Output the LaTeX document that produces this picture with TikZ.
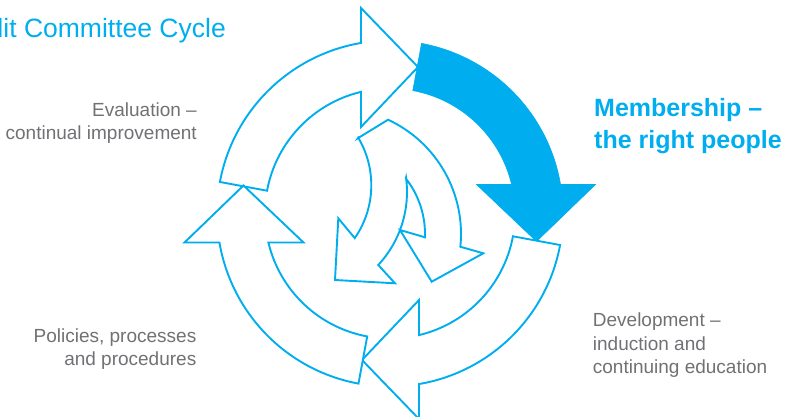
\documentclass[tikz,border=0pt]{standalone}
\usepackage{fontspec}
\setmainfont{Liberation Sans}
\usetikzlibrary{calc}
\definecolor{kcyan}{RGB}{0,174,239}
\definecolor{kgray}{RGB}{112,113,116}
\begin{document}
\begin{tikzpicture}[x=1pt,y=1pt,
  ringarrow/.style={draw=kcyan, line width=1.9pt, fill=white, line join=miter},
  solidarrow/.style={draw=kcyan, line width=0.6pt, fill=kcyan, line join=miter},
  bodytext/.style={text=kgray, inner sep=0pt, font=\fontsize{19}{23}\selectfont},
  headtext/.style={text=kcyan, inner sep=0pt, font=\fontsize{25}{31}\selectfont\bfseries},
  titletext/.style={text=kcyan, inner sep=0pt, font=\fontsize{26.5}{30}\selectfont}]
\useasboundingbox (0,-417) rectangle (792,0);
\clip (0,-417) rectangle (792,0);

% outer ring of four arrows
\begin{scope}[shift={(390,-213.5)}]
  \foreach \ang/\sty in {0/ringarrow,-90/solidarrow,-180/ringarrow,-270/ringarrow}{
    \begin{scope}[rotate=\ang]
      \path[\sty] (169.5:173) arc[start angle=169.5, end angle=99.65, radius=173]
        -- (-29,205.5) -- (28,146.5) -- (-29,86.5) -- (-29,121.6)
        arc[start angle=103.4, end angle=169.5, radius=125] -- cycle;
    \end{scope}
  }
\end{scope}

% inner swirl of two arrows
\coordinate (oa) at (278.3,-185.2);
\coordinate (ob) at (300,-192);
\coordinate (oc) at (335,-234);
\path[ringarrow]
  (357.7,-138.3) -- ($(oc)+(65.1:126)$)
  arc[start angle=65.1, end angle=-5.8, radius=126]
  -- (483.3,-253.3) -- (431.7,-281.7) -- (400,-230)
  -- ($(oc)+(-2.1:90)$) arc[start angle=-2.1, end angle=38.1, radius=90]
  -- ($(ob)+(7.7:107)$) arc[start angle=7.7, end angle=-43.0, radius=107]
  -- (395,-283.3) -- (335,-280) -- (338.3,-218.3)
  -- ($(oa)+(-34.7:93)$) arc[start angle=-34.7, end angle=30.8, radius=93]
  -- cycle;

% texts
\node[titletext, anchor=base east] (title) at (226,-37.3) {Audit Committee Cycle};

\node[bodytext, anchor=base east] (eval1) at (197,-116.5) {Evaluation \textendash};
\node[bodytext, anchor=base east] (eval2) at (197,-139.5) {continual improvement};

\node[bodytext, anchor=base east] (pol1) at (196.5,-342.3) {Policies, processes};
\node[bodytext, anchor=base east] (pol2) at (196.5,-365) {and procedures};

\node[bodytext, anchor=base west] (dev1) at (592.7,-326.7) {Development \textendash};
\node[bodytext, anchor=base west] (dev2) at (592.7,-350) {induction and};
\node[bodytext, anchor=base west] (dev3) at (592.7,-373.3) {continuing education};

\node[headtext, anchor=base west] (mem1) at (594,-116.7) {Membership \textendash};
\node[headtext, anchor=base west] (mem2) at (594,-148.3) {the right people};
\end{tikzpicture}
\end{document}
